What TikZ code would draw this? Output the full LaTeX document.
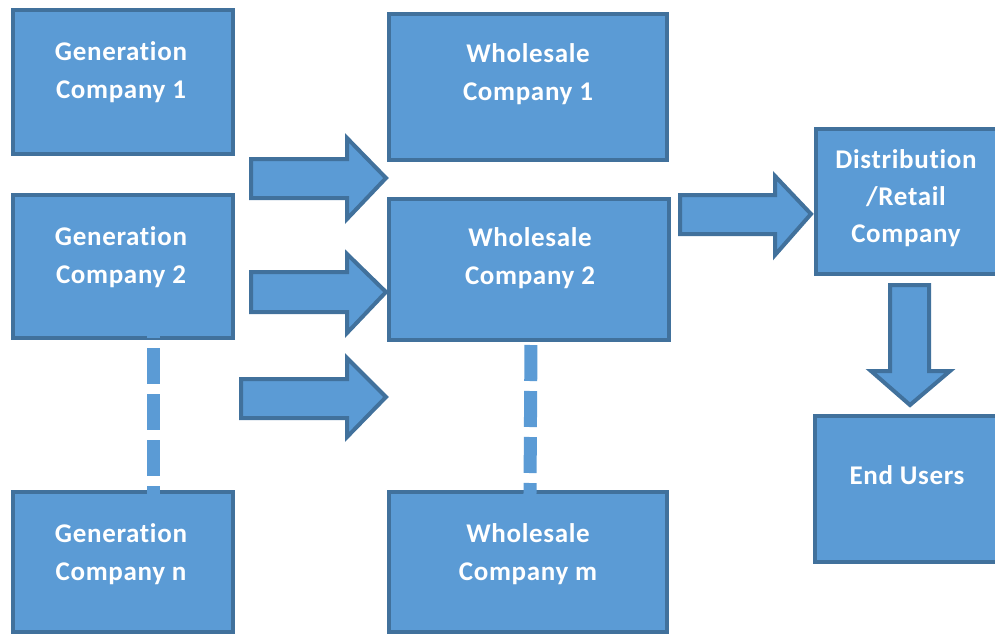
\documentclass[tikz,border=0pt]{standalone}
\usepackage{fontspec}
\setmainfont{Carlito}[Ligatures=NoCommon, LetterSpace=2.5]
\definecolor{boxfill}{RGB}{91,155,213}
\definecolor{boxline}{RGB}{65,113,156}
\begin{document}
\begin{tikzpicture}[x=1pt,y=-1pt,
  box/.style={draw=boxline, fill=boxfill, line width=4.5pt, outer sep=0pt, inner sep=0pt},
  txt/.style={text=white, font=\bfseries\fontsize{27}{38}\selectfont, inner sep=0pt, anchor=base},
  barrow/.style={draw=boxline, fill=boxfill, line width=4pt, line join=miter},
  dashline/.style={draw=boxfill, line width=13pt, dash pattern=on 36pt off 10pt}]
\useasboundingbox (0,0) rectangle (995,635);
% boxes
\node[box, minimum width=220pt, minimum height=144pt] (g1) at (123,82) {};
\node[box, minimum width=220pt, minimum height=143pt] (g2) at (123,266.5) {};
\node[box, minimum width=220pt, minimum height=140pt] (gn) at (123,562) {};
\node[box, minimum width=278pt, minimum height=146pt] (w1) at (528,87) {};
\node[box, minimum width=280pt, minimum height=141pt] (w2) at (529,269.5) {};
\node[box, minimum width=278pt, minimum height=140pt] (wm) at (528,562) {};
\node[box, minimum width=184pt, minimum height=145pt] (dr) at (908,201.5) {};
\node[box, minimum width=184pt, minimum height=146pt] (eu) at (907,489) {};
% texts
\node[txt] (g1a) at (121,60) {Generation};
\node[txt] (g1b) at (121,98) {Company 1};
\node[txt] (g2a) at (121,245) {Generation};
\node[txt] (g2b) at (121,283) {Company 2};
\node[txt] (gna) at (121,542) {Generation};
\node[txt] (gnb) at (121,580) {Company n};
\node[txt] (w1a) at (528,62) {Wholesale};
\node[txt] (w1b) at (528,100) {Company 1};
\node[txt] (w2a) at (530,246) {Wholesale};
\node[txt] (w2b) at (530,284) {Company 2};
\node[txt] (wma) at (528,542) {Wholesale};
\node[txt] (wmb) at (528,580) {Company m};
\node[txt] (dra) at (906,168) {Distribution};
\node[txt] (drb) at (906,205) {/Retail};
\node[txt] (drc) at (906,242) {Company};
\node[txt] (eua) at (907,484) {End Users};
% dashed links
\draw[dashline, dash phase=32pt, shorten <=-4pt, shorten >=-5pt]
  ([xshift=30pt]g2.south) -- ([xshift=30pt]gn.north);
\draw[dashline, shorten <=5pt, shorten >=-5pt]
  ([xshift=2pt]w2.south) -- ([xshift=2pt]wm.north);
% block arrows
\path[barrow] (251,159) -- (347,159) -- (347,138) -- (386,178) -- (347,219) -- (347,198) -- (251,198) -- cycle;
\path[barrow] (251,272) -- (347,272) -- (347,254) -- (386,292) -- (347,333) -- (347,312) -- (251,312) -- cycle;
\path[barrow] (241,379) -- (347,379) -- (347,358) -- (386,397) -- (347,437) -- (347,418) -- (241,418) -- cycle;
\path[barrow] (680,195) -- (775,195) -- (775,176) -- (811,214) -- (775,255) -- (775,234) -- (680,234) -- cycle;
\path[barrow] (890,285) -- (929,285) -- (929,371) -- (950,371) -- (910,405) -- (871,371) -- (890,371) -- cycle;
\end{tikzpicture}
\end{document}
